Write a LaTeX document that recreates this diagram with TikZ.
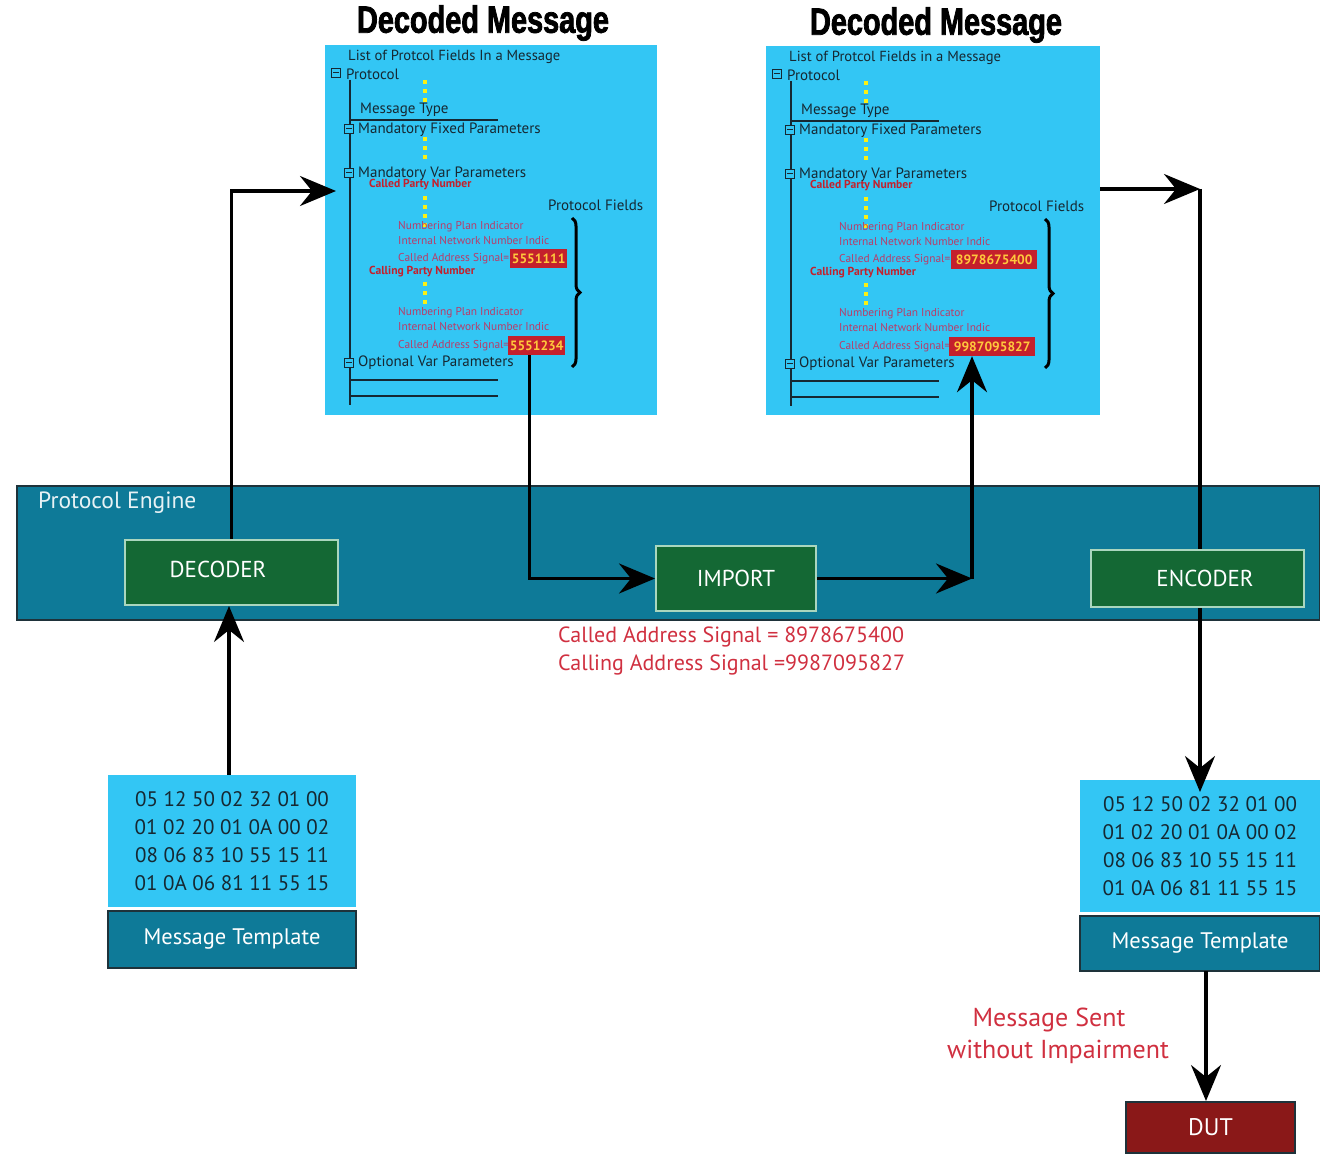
\documentclass[tikz,border=0pt]{standalone}
\usepackage{fontspec}
\setmainfont{PT Sans}
\newfontfamily\headfont[FakeStretch=0.76,FakeBold=2]{Liberation Sans}
\usetikzlibrary{arrows.meta,decorations.pathreplacing}

\definecolor{panelblue}{RGB}{51,198,244}
\definecolor{engineteal}{RGB}{14,122,152}
\definecolor{engineedge}{RGB}{30,50,58}
\definecolor{blockgreen}{RGB}{20,104,52}
\definecolor{blockedge}{RGB}{170,214,190}
\definecolor{dutred}{RGB}{138,24,24}
\definecolor{notered}{RGB}{208,48,64}
\definecolor{valred}{RGB}{196,32,44}
\definecolor{valgold}{RGB}{255,200,60}
\definecolor{treeink}{RGB}{22,40,50}
\definecolor{fieldred}{RGB}{185,60,105}
\definecolor{dotyellow}{RGB}{250,240,20}

\tikzset{
  conn/.style={line width=3.2pt,-{Stealth[length=36pt,width=30pt,inset=12pt]}},
  wire/.style={line width=3.2pt},
  panel/.style={fill=panelblue,draw=none,inner sep=0pt},
  engine/.style={fill=engineteal,draw=engineedge,line width=2pt,inner sep=0pt},
  block/.style={fill=blockgreen,draw=blockedge,line width=2pt,inner sep=0pt},
  blocktext/.style={text=white,font=\fontsize{23}{27}\selectfont,inner sep=0pt},
  tmpl/.style={fill=engineteal,draw=engineedge,line width=2pt,text=white,
    font=\fontsize{22.5}{26}\selectfont,inner sep=0pt},
  hexbox/.style={fill=panelblue,draw=none,text=treeink,align=center,
    font=\fontsize{21}{28}\selectfont,inner sep=0pt},
  dut/.style={fill=dutred,draw=engineedge,line width=2pt,text=white,
    font=\fontsize{24}{28}\selectfont,inner sep=0pt},
  note/.style={text=notered,font=\fontsize{22}{28}\selectfont,inner sep=0pt},
  headline/.style={font=\headfont\bfseries\fontsize{38}{40}\selectfont,inner sep=0pt},
  spine/.style={draw=treeink,line width=2.4pt},
  dots/.style={draw=dotyellow,line width=4pt,dash pattern=on 4pt off 5pt},
  ttl/.style={anchor=west,text=treeink,font=\fontsize{14.6}{16}\selectfont,inner sep=0pt},
  fld/.style={anchor=west,text=treeink,font=\fontsize{15}{17}\selectfont,inner sep=0pt},
  sub/.style={anchor=west,text=fieldred,font=\fontsize{11.4}{13}\selectfont,inner sep=0pt},
  party/.style={anchor=west,text=valred,font=\bfseries\fontsize{11.6}{13}\selectfont,inner sep=0pt},
  sq/.style={draw=treeink,line width=1.4pt,minimum size=9pt,inner sep=0pt,
    path picture={\draw[treeink,line width=1pt]
      ([xshift=1.5pt]path picture bounding box.west) --
      ([xshift=-1.5pt]path picture bounding box.east);}},
  valbox/.style={anchor=west,fill=valred,text=valgold,
    font=\bfseries\fontsize{13.5}{15}\selectfont,minimum height=19pt,inner sep=1.5pt},
  brace/.style={draw=black,line width=3pt,decorate,decoration={brace,amplitude=8pt}},
}

% field tree of one decoded message: #1 heading, #2 called value, #3 calling value,
% #4 width of the value boxes, #5 x of the brace
\newcommand{\fieldtree}[5]{%
  \draw[spine] (350,80) -- (350,405);
  \draw[spine] (350,120) -- (498,120);
  \draw[spine] (350,380) -- (498,380);
  \draw[spine] (350,396) -- (498,396);
  \foreach \ya/\yb in {80/106,137/163,196/227,282/308}
    \draw[dots] (425,\ya) -- (425,\yb);
  \node[ttl] (head) at (348,57) {#1};
  \node[sq,fill=panelblue] (b0) at (336,73) {};
  \node[fld] (f0) at (346,74) {Protocol};
  \node[fld] (f1) at (360,110) {Message Type};
  \node[sq,fill=panelblue] (b1) at (349,129) {};
  \node[fld] (f2) at (358,130) {Mandatory Fixed Parameters};
  \node[sq,fill=panelblue] (b2) at (349,173) {};
  \node[fld] (f3) at (358,174) {Mandatory Var Parameters};
  \node[party] (p1) at (369,185) {Called Party Number};
  \node[sub] (n1) at (398,227) {Numbering Plan Indicator};
  \node[sub] (i1) at (398,241) {Internal Network Number Indic};
  \node[sub] (s1) at (398,259) {Called Address Signal=};
  \node[valbox,minimum width=#4] (va) at (510,258.5) {#2};
  \node[party] (p2) at (369,272) {Calling Party Number};
  \node[sub] (n2) at (398,313) {Numbering Plan Indicator};
  \node[sub] (i2) at (398,327) {Internal Network Number Indic};
  \node[sub] (s2) at (398,346) {Called Address Signal=};
  \node[valbox,minimum width=#4] (vb) at (508,345.5) {#3};
  \node[sq,fill=panelblue] (b3) at (349,363) {};
  \node[fld] (f4) at (358,363) {Optional Var Parameters};
  \node[fld] (pf) at (548,205) {Protocol Fields};
  \draw[brace] (#5,218) -- (#5,367);
}

\begin{document}
\begin{tikzpicture}[x=1pt,y=-1pt]
\useasboundingbox (0,0) rectangle (1320,1155);

% decoded message panels
\node[headline] (t1) at (483,23) {Decoded Message};
\node[headline] (t2) at (936,25) {Decoded Message};
\node[panel,minimum width=332pt,minimum height=370pt] (Lpanel) at (491,230) {};
\node[panel,minimum width=334pt,minimum height=369pt] (Rpanel) at (933,230.5) {};
\begin{scope}[name prefix=L-]
  \fieldtree{List of Protcol Fields In a Message}{5551111}{5551234}{57pt}{572}
\end{scope}
\begin{scope}[shift={(441,1)},name prefix=R-]
  \fieldtree{List of Protcol Fields in a Message}{8978675400}{9987095827}{86pt}{604}
\end{scope}

% protocol engine
\node[engine,minimum width=1303pt,minimum height=134pt] (engine) at (668.5,553) {};
\node[anchor=west,text=white!90!engineteal,font=\fontsize{23.5}{27}\selectfont,inner sep=0pt]
  (englbl) at (38,503) {Protocol Engine};
\node[block,minimum width=213pt,minimum height=65pt] (dec) at (231.5,572.5) {};
\node[blocktext] (dect) at (218,569) {DECODER};
\node[block,minimum width=160pt,minimum height=65pt] (imp) at (736,578.5) {};
\node[blocktext] (impt) at (736,578) {IMPORT};
\node[block,minimum width=213pt,minimum height=57pt] (enc) at (1197.5,578.5) {};
\node[blocktext] (enct) at (1205,578) {ENCODER};

\node[note,anchor=west,align=left] (sig) at (558,651)
  {Called Address Signal = 8978675400\\Calling Address Signal =9987095827};

% message templates
\node[hexbox,minimum width=248pt,minimum height=132pt] (lhex) at (232,841)
  {05 12 50 02 32 01 00\\01 02 20 01 0A 00 02\\08 06 83 10 55 15 11\\01 0A 06 81 11 55 15};
\node[tmpl,minimum width=248pt,minimum height=57pt] (ltmp) at (232,939.5) {Message Template};
\node[hexbox,minimum width=240pt,minimum height=132pt] (rhex) at (1200,846)
  {05 12 50 02 32 01 00\\01 02 20 01 0A 00 02\\08 06 83 10 55 15 11\\01 0A 06 81 11 55 15};
\node[tmpl,minimum width=240pt,minimum height=55pt] (rtmp) at (1200,943.5) {Message Template};
\node[dut,minimum width=169pt,minimum height=51pt] (dut) at (1210.5,1127.5) {DUT};
\node[text=notered,font=\fontsize{26}{32}\selectfont,inner sep=0pt] (sent1) at (1049,1020) {Message Sent};
\node[text=notered,font=\fontsize{26}{32}\selectfont,inner sep=0pt] (sent2) at (1058,1052) {without Impairment};

% connectors
\coordinate (lin) at (336,191);
\coordinate (c1) at (972,578.5);
\coordinate (c2) at (1200,189);
\coordinate (c3) at (1200,792);
\coordinate (c4) at (1206,971);

\draw[conn] ([xshift=-3pt]lhex.north) -- ([xshift=-3pt]lhex.north |- dec.south);
\draw[conn] (dec.north) |- (lin);
\draw[conn] ([xshift=-7pt]L-vb.south) |- (imp.west);
\draw[conn] (imp.east) -- (c1);
\draw[conn] (c1) -- (c1 |- R-vb.south);
\draw[conn] (c2 -| Rpanel.east) -- (c2);
\draw[wire] (c2) -- (c2 |- enc.north);
\draw[conn] (c2 |- enc.south) -- (c3);
\draw[conn] (c4) -- (c4 |- dut.north);
\end{tikzpicture}
\end{document}
